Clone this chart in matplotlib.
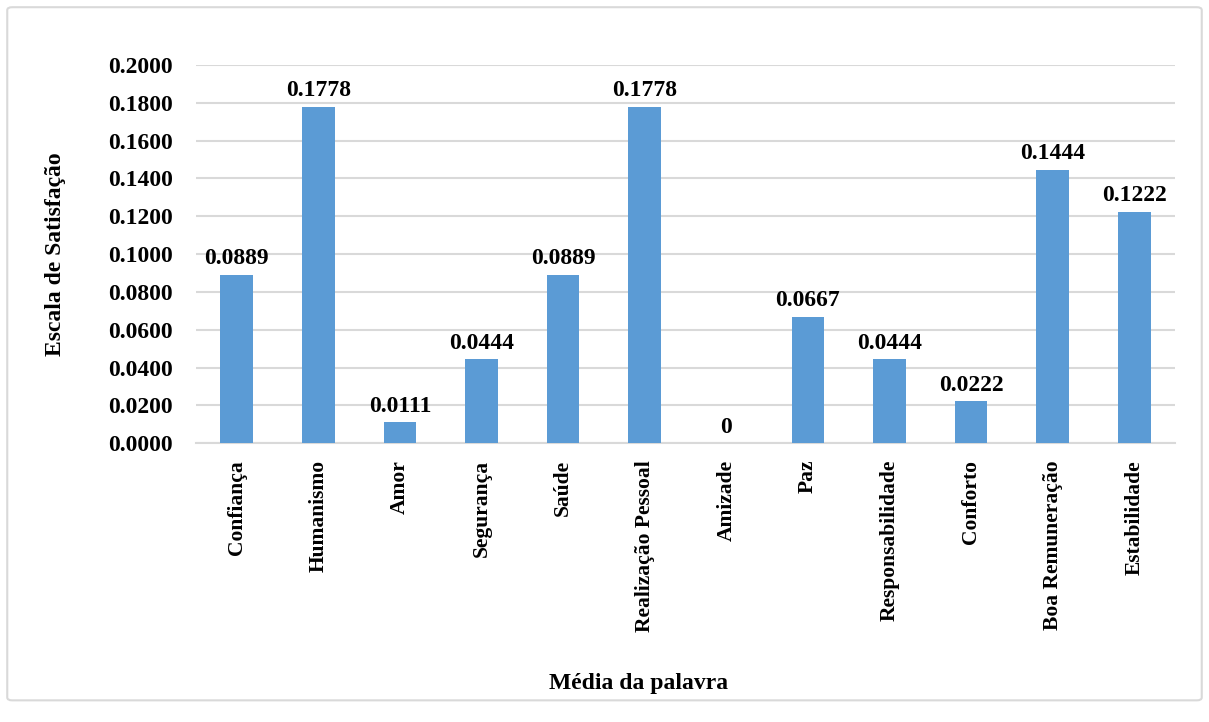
import numpy as np
import matplotlib.pyplot as plt
from matplotlib.patches import FancyBboxPatch

palavras = ['Confiança', 'Humanismo', 'Amor', 'Segurança', 'Saúde',
            'Realização Pessoal', 'Amizade', 'Paz', 'Responsabilidade',
            'Conforto', 'Boa Remuneração', 'Estabilidade']
medias = [0.0889, 0.1778, 0.0111, 0.0444, 0.0889, 0.1778, 0.0,
          0.0667, 0.0444, 0.0222, 0.1444, 0.1222]
rotulos = ['0.0889', '0.1778', '0.0111', '0.0444', '0.0889', '0.1778', '0',
           '0.0667', '0.0444', '0.0222', '0.1444', '0.1222']

plt.rcParams['font.family'] = ['Liberation Serif', 'DejaVu Serif']
plt.rcParams['font.weight'] = 'bold'

fig = plt.figure(figsize=(12.09, 7.22), dpi=100)
ax = fig.add_axes([0.162, 0.386, 0.81, 0.524])

# moldura da figura
fig.patches.append(FancyBboxPatch((0.006, 0.03), 0.988, 0.96,
                                  boxstyle='round,pad=0,rounding_size=0.004',
                                  transform=fig.transFigure, fill=False,
                                  edgecolor='#d9d9d9', linewidth=1.5))

x = np.arange(len(palavras))
ax.bar(x, medias, width=0.4, color='#5b9bd5', zorder=3)

for xi, v, r in zip(x, medias, rotulos):
    ax.text(xi, v + 0.003, r, ha='center', va='bottom',
            fontsize=17, fontweight='bold')

ax.set_xlim(-0.5, len(palavras) - 0.5)
ax.set_ylim(0, 0.2)
ax.set_yticks(np.arange(0, 0.2001, 0.02))
ax.set_yticklabels(['%.4f' % t for t in np.arange(0, 0.2001, 0.02)],
                   fontsize=17, fontweight='bold')
ax.set_xticks(x)
ax.set_xticklabels(palavras, rotation=90, fontsize=15.5, fontweight='bold')
ax.tick_params(length=0, pad=12)
ax.tick_params(axis='y', pad=16.5)

ax.grid(axis='y', color='#d9d9d9', linewidth=1.5, zorder=0)
for s in ['top', 'right', 'left']:
    ax.spines[s].set_visible(False)
ax.spines['bottom'].set_color('#d9d9d9')
ax.spines['bottom'].set_linewidth(1.5)

ax.set_ylabel('Escala de Satisfação', fontsize=17, fontweight='bold', labelpad=30)
fig.text(0.528, 0.054, 'Média da palavra', ha='center', va='center',
         fontsize=17, fontweight='bold')

fig.savefig('out.png', dpi=100)
